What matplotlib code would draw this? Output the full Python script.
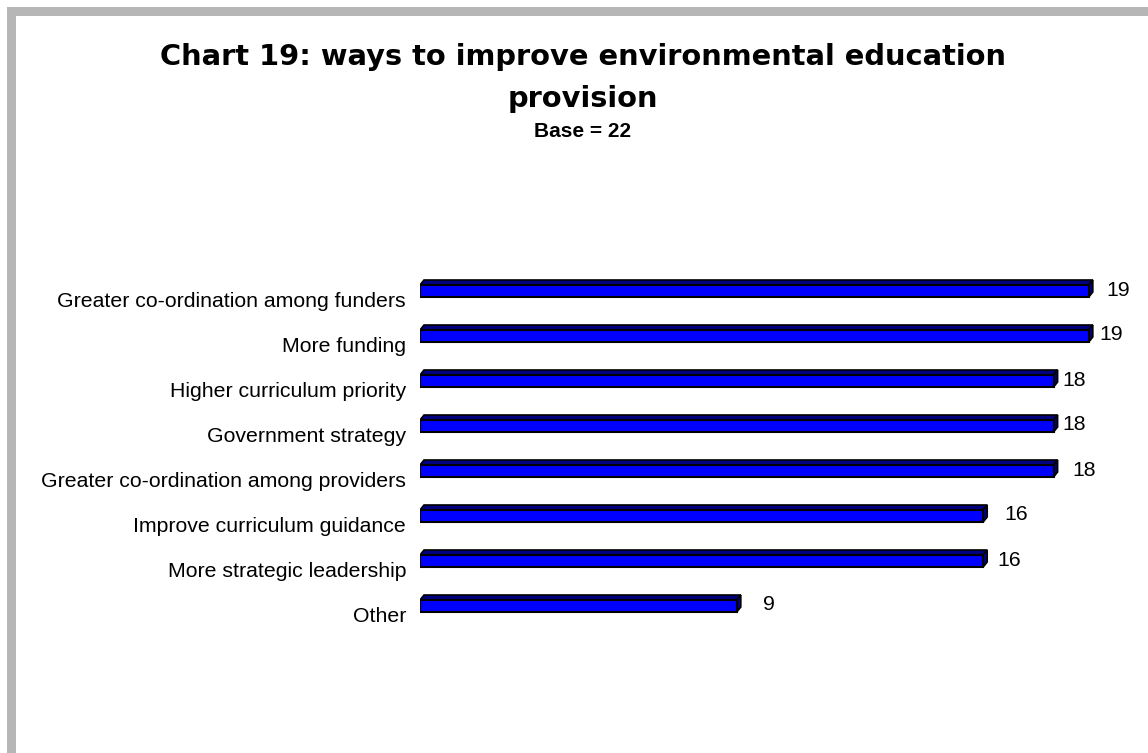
import numpy as np
import matplotlib
matplotlib.use("Agg")
import matplotlib.pyplot as plt
from matplotlib.patches import Polygon, Rectangle
from matplotlib.transforms import ScaledTranslation

categories = [
    "Greater co-ordination among funders",
    "More funding",
    "Higher curriculum priority",
    "Government strategy",
    "Greater co-ordination among providers",
    "Improve curriculum guidance",
    "More strategic leadership",
    "Other",
]
counts = [19, 19, 18, 18, 18, 16, 16, 9]

# gap between bar end and its value label, in pixels
label_gap_px = [18, 11, 9, 9, 19, 21, 14, 26]

W, H, DPI = 1148, 753, 100
FRONT = "#0000ff"
DARK = "#000080"
LABEL_FS = 15.3

fig = plt.figure(figsize=(W / DPI, H / DPI), dpi=DPI)
fig.patch.set_facecolor("white")

# grey frame strips along the top and left edges
def px_rect(x0, y0, x1, y1):
    return Rectangle((x0 / W, 1 - y1 / H), (x1 - x0) / W, (y1 - y0) / H,
                     transform=fig.transFigure, facecolor="#b6b6b6",
                     edgecolor="none", zorder=0)

fig.patches.append(px_rect(7, 7, W, 16))
fig.patches.append(px_rect(7, 7, 16, H))

cx = 583 / W
fig.text(cx, 1 - 65 / H, "Chart 19: ways to improve environmental education",
         ha="center", va="baseline", fontsize=20.8, fontweight="bold",
         family="DejaVu Sans")
fig.text(cx, 1 - 107 / H, "provision", ha="center", va="baseline",
         fontsize=20.8, fontweight="bold", family="DejaVu Sans")
fig.text(cx, 1 - 137 / H, "Base = 22", ha="center", va="baseline",
         fontsize=15, fontweight="bold", family="Liberation Sans")

# axes: value 0 at x=420px, 35.2px per unit; categories 45px apart
x0_px, unit_px = 420, 35.2
row0_px, row_px = 291, 45
xmax = 20
ax = fig.add_axes([x0_px / W,
                   1 - (row0_px + row_px * 7.5) / H,
                   unit_px * xmax / W,
                   row_px * 8 / H])
ax.set_xlim(0, xmax)
ax.set_ylim(7.5, -0.5)
ax.axis("off")

h = 12 / row_px          # front face height
dx = 4 / unit_px         # depth offset to the right
dy = 5 / row_px          # depth offset upward

for i, v in enumerate(counts):
    top, bot = i - h / 2, i + h / 2
    ax.add_patch(Polygon([(0, top), (dx, top - dy), (v + dx, top - dy), (v, top)],
                         closed=True, facecolor=DARK, edgecolor="black", lw=1.2))
    ax.add_patch(Polygon([(v, top), (v + dx, top - dy), (v + dx, bot - dy), (v, bot)],
                         closed=True, facecolor=DARK, edgecolor="black", lw=1.2))
    ax.add_patch(Rectangle((0, top), v, h, facecolor=FRONT,
                           edgecolor="black", lw=1.5))
    off = ScaledTranslation(label_gap_px[i] / DPI, -4.5 / DPI, fig.dpi_scale_trans)
    ax.text(v, i, str(v), ha="left", va="baseline", fontsize=LABEL_FS,
            family="Liberation Sans", transform=ax.transData + off)
    lab = ScaledTranslation(-14 / DPI, -16 / DPI, fig.dpi_scale_trans)
    ax.text(0, i, categories[i], ha="right", va="baseline", fontsize=LABEL_FS,
            family="Liberation Sans", transform=ax.transData + lab)

fig.savefig("out.png", dpi=DPI, facecolor="white")
